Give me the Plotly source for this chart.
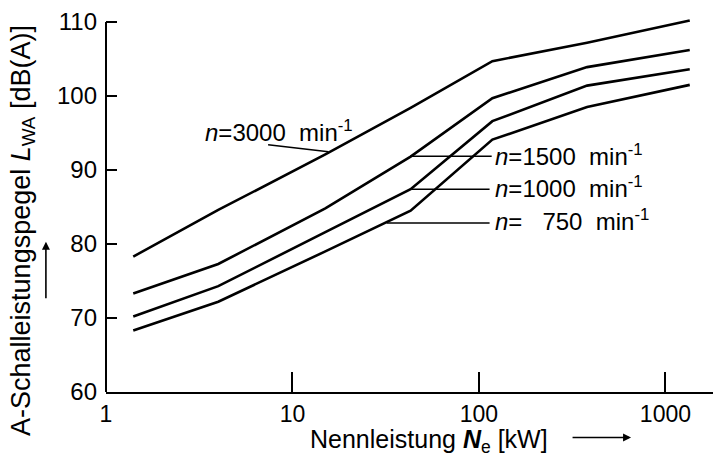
import plotly.graph_objects as go
import math

# ---- data ----
power_kw = [1.4, 4, 15, 43, 118, 380, 1350]
level_3000 = [78.3, 84.6, 92.1, 98.4, 104.7, 107.2, 110.2]
level_1500 = [73.3, 77.3, 84.8, 91.8, 99.7, 103.9, 106.2]
level_1000 = [70.2, 74.3, 81.6, 87.4, 96.6, 101.4, 103.6]
level_750 = [68.3, 72.2, 79.0, 84.5, 94.1, 98.5, 101.5]

x_tick_vals = [1, 10, 100, 1000]
x_tick_text = ["1", "10", "100", "1000"]
y_tick_vals = [60, 70, 80, 90, 100, 110]

# curve labels: text, label anchor (x, y), leader line (x0, x1, y0, y1)
labels = [
    ("<i>n</i>=3000  min<sup>-1</sup>", 3.3, 95.2, (7.4, 15.6), (93.4, 92.45)),
    ("<i>n</i>=1500  min<sup>-1</sup>", 119, 92.0, (42.7, 117), (91.87, 91.87)),
    ("<i>n</i>=1000  min<sup>-1</sup>", 119, 87.7, (43.6, 114), (87.4, 87.4)),
    ("<i>n</i>=\u00a0\u00a0 750  min<sup>-1</sup>", 119, 83.3, (32, 114), (82.85, 82.85)),
]

FONT = "Liberation Sans, Arial, sans-serif"

fig = go.Figure()
for vals in (level_3000, level_1500, level_1000, level_750):
    fig.add_trace(go.Scatter(x=power_kw, y=vals, mode="lines",
                             line=dict(color="black", width=2.6),
                             showlegend=False, hoverinfo="skip"))

annotations = []
for text, lx, ly, lxs, lys in labels:
    fig.add_trace(go.Scatter(x=list(lxs), y=list(lys), mode="lines",
                             line=dict(color="black", width=1.5),
                             showlegend=False, hoverinfo="skip"))
    annotations.append(dict(x=math.log10(lx), y=ly, xref="x", yref="y",
                            text=text, showarrow=False, xanchor="left",
                            yanchor="middle",
                            font=dict(family=FONT, size=24, color="black")))

# axis titles
annotations.append(dict(x=-0.137, y=0.434, xref="paper", yref="paper",
                        xanchor="center", yanchor="middle",
                        text="A-Schalleistungspegel <i>L</i><sub>WA</sub> [dB(A)]",
                        textangle=-90, showarrow=False,
                        font=dict(family=FONT, size=27, color="black")))
annotations.append(dict(x=0.532, y=-0.131, xref="paper", yref="paper",
                        xanchor="center", yanchor="middle",
                        text="Nennleistung <b><i>N</i></b><sub>e</sub> [kW]",
                        showarrow=False,
                        font=dict(family=FONT, size=25, color="black")))
# axis arrows
annotations.append(dict(x=0.865, y=-0.122, xref="paper", yref="paper",
                        text="", showarrow=True, ax=-60, ay=0,
                        arrowhead=2, arrowsize=1, arrowwidth=1.6,
                        arrowcolor="black"))
annotations.append(dict(x=-0.099, y=0.403, xref="paper", yref="paper",
                        text="", showarrow=True, ax=0, ay=58,
                        arrowhead=2, arrowsize=1, arrowwidth=1.6,
                        arrowcolor="black"))

fig.update_layout(
    width=713, height=460,
    margin=dict(l=106, r=0, t=18.5, b=67.5),
    paper_bgcolor="white", plot_bgcolor="white",
    font=dict(family=FONT, size=24, color="black"),
    annotations=annotations,
    shapes=[dict(type="line", xref="paper", yref="y", x0=0, x1=0,
                 y0=60, y1=110, line=dict(color="black", width=2))],
)
fig.update_xaxes(type="log", range=[0, 3.255], showgrid=False, zeroline=False,
                 showline=True, linecolor="black", linewidth=2,
                 ticks="inside", ticklen=20, tickwidth=1.5, tickcolor="black",
                 tickvals=x_tick_vals, ticktext=x_tick_text,
                 tickfont=dict(family=FONT, size=23, color="black"),
                 ticklabelstandoff=0)
fig.update_yaxes(range=[60, 110.4], showgrid=False, zeroline=False,
                 showline=False, ticks="inside", ticklen=11, tickwidth=1.5,
                 tickcolor="black", tickvals=y_tick_vals,
                 tickfont=dict(family=FONT, size=24, color="black"),
                 ticklabelstandoff=8)

fig.write_html("out.html")
